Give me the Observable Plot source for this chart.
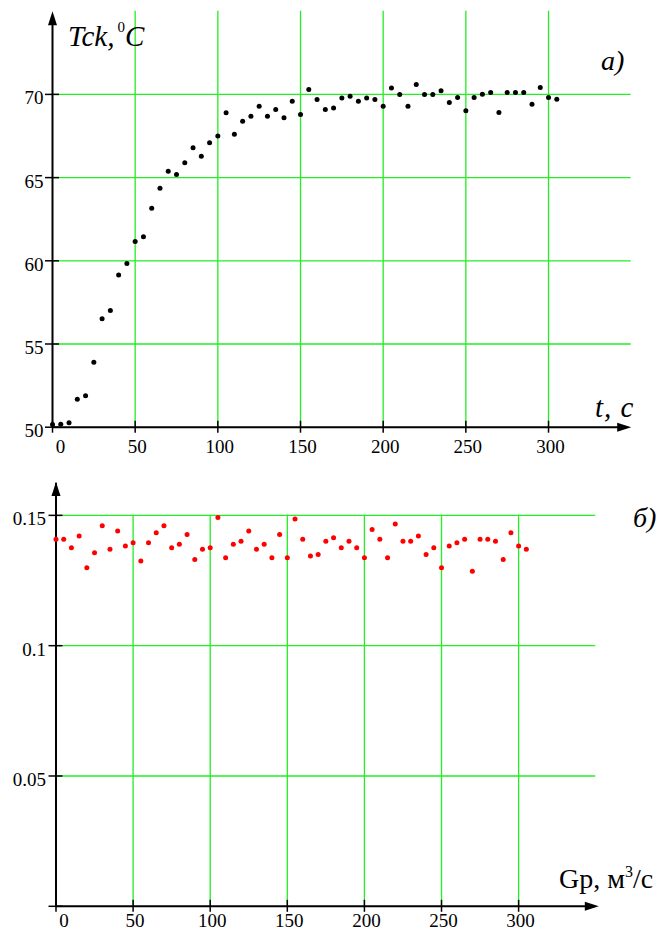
<!DOCTYPE html>
<html><head><meta charset="utf-8">
<script src="https://cdn.jsdelivr.net/npm/d3@7"></script>
<script src="https://cdn.jsdelivr.net/npm/@observablehq/plot@0.6"></script>
<style>
html,body{margin:0;padding:0;background:#fff;overflow:hidden;}
#chart{width:665px;height:934px;position:relative;background:#fff;overflow:hidden;}
#chart svg{display:block;max-width:none !important;}
</style></head><body><div id="chart"></div>
<script>
// ---- data ----
const timeTop = [0,5,10,15,20,25,30,35,40,45,50,55,60,65,70,75,80,85,90,95,100,105,110,115,120,125,130,135,140,145,150,155,160,165,170,175,180,185,190,195,200,205,210,215,220,225,230,235,240,245,250,255,260,265,270,275,280,285,290,295,300,305];
const tck = [50.16,50.18,50.26,51.68,51.89,53.91,56.51,57.01,59.14,59.84,61.16,61.44,63.16,64.36,65.38,65.19,65.89,66.79,66.29,67.09,67.50,68.90,67.60,68.39,68.69,69.29,68.69,69.09,68.59,69.59,68.79,70.29,69.69,69.09,69.19,69.79,69.89,69.59,69.79,69.69,69.29,70.39,69.99,69.29,70.59,70.00,70.00,70.22,69.51,69.81,69.01,69.81,70.01,70.11,68.91,70.11,70.11,70.11,69.41,70.41,69.81,69.71];
const timeBottom = timeTop.slice();
const gp = [0.1408,0.1408,0.1376,0.1421,0.1299,0.1357,0.1460,0.1370,0.1440,0.1382,0.1395,0.1325,0.1395,0.1433,0.1460,0.1376,0.1389,0.1427,0.1331,0.1370,0.1376,0.1492,0.1337,0.1389,0.1401,0.1440,0.1370,0.1389,0.1337,0.1427,0.1337,0.1486,0.1408,0.1344,0.1350,0.1401,0.1414,0.1376,0.1401,0.1376,0.1337,0.1446,0.1408,0.1337,0.1467,0.1401,0.1401,0.1421,0.1350,0.1376,0.1299,0.1382,0.1395,0.1408,0.1286,0.1408,0.1408,0.1401,0.1331,0.1433,0.1382,0.1370];
const xTicks = [0,50,100,150,200,250,300];
const yTicksTop = [50,55,60,65,70];
const yTicksBottom = [0,0.05,0.1,0.15];
const yLabelsBottom = [0.05,0.1,0.15];

// ---- styles ----
const GREEN = "#22ee22";
const SERIF = "'Liberation Serif', 'Times New Roman', Times, 'DejaVu Serif', serif";
const TICKFS = 19;
const arrowUp = {draw(ctx){ ctx.moveTo(0,0); ctx.lineTo(4.5,14); ctx.lineTo(-4.5,14); ctx.closePath(); }};

const chart = document.getElementById("chart");
const topData = timeTop.map((t,i)=>({t, v: tck[i]}));
const botData = timeBottom.map((t,i)=>({t, v: gp[i]}));

function label(sel, x, y, size, italic) {
  return sel.append("text").attr("x", x).attr("y", y)
    .attr("text-anchor", "start")
    .style("font-family", SERIF).attr("font-size", size)
    .attr("font-style", italic ? "italic" : "normal").attr("fill", "black");
}

// ---- top chart ----
const X1 = 350, Y1 = 75;
const topPlot = Plot.plot({
  width: 665, height: 460,
  marginLeft: 52, marginRight: 34.3, marginTop: 10.7, marginBottom: 33.3,
  style: {fontFamily: SERIF, background: "white"},
  x: {domain: [0, X1], axis: null},
  y: {domain: [50, Y1], axis: null},
  marks: [
    Plot.ruleX(xTicks.filter(d=>d>0), {x: d=>d, y1: 50, y2: Y1, stroke: GREEN, strokeWidth: 1.3}),
    Plot.ruleY(yTicksTop.filter(d=>d>50), {y: d=>d, x1: 0, x2: X1, stroke: GREEN, strokeWidth: 1.3}),
    Plot.ruleY([50], {x1: 0, x2: X1 - 4, stroke: "black", strokeWidth: 2}),
    Plot.ruleX([0], {y1: 50, y2: Y1 - 0.5, stroke: "black", strokeWidth: 2}),
    Plot.ruleX(xTicks, {x: d=>d, y1: 50, y2: 50, insetTop: -6, insetBottom: -6, stroke: "black", strokeWidth: 1.5}),
    Plot.ruleY(yTicksTop, {y: d=>d, x1: 0, x2: 0, insetLeft: -7, insetRight: -7, stroke: "black", strokeWidth: 1.5}),
    Plot.dot([0], {x: X1, y: 50, symbol: arrowUp, rotate: 90, r: 4, fill: "black", stroke: null}),
    Plot.dot([0], {x: 0, y: Y1, symbol: arrowUp, r: 4, fill: "black", stroke: null}),
    Plot.text(xTicks.slice(0,1), {x: d=>d, y: 50, dx: 8, dy: 20, text: d=>String(d), fontSize: TICKFS, fontFamily: SERIF, fill: "black"}),
    Plot.text(xTicks.slice(1), {x: d=>d, y: 50, dx: 2, dy: 20, text: d=>String(d), fontSize: TICKFS, fontFamily: SERIF, fill: "black"}),
    Plot.text(yTicksTop, {x: 0, y: d=>d, dx: -9, dy: 4, textAnchor: "end", text: d=>String(d), fontSize: TICKFS, fontFamily: SERIF, fill: "black"}),
    Plot.dot(topData, {x: "t", y: "v", r: 2.5, fill: "black", stroke: null})
  ]
});
chart.appendChild(topPlot);
{
  const s = d3.select(topPlot);
  const t = label(s, 68, 46, 29, true);
  t.append("tspan").text("Tck,");
  t.append("tspan").attr("dx", 3).attr("dy", -14).attr("font-size", 15).attr("font-style", "normal").text("0");
  t.append("tspan").attr("dy", 14).text("C");
  label(s, 601, 69.5, 28, true).text("a)");
  label(s, 595, 417, 29, true).attr("letter-spacing", 1).text("t, c");
}

// ---- bottom chart ----
const X2 = 352, Y2 = 0.1628;
const botPlot = Plot.plot({
  width: 665, height: 474,
  marginLeft: 55.5, marginRight: 66.7, marginTop: 21.5, marginBottom: 28.2,
  style: {fontFamily: SERIF, background: "white"},
  x: {domain: [0, X2], axis: null},
  y: {domain: [0, Y2], axis: null},
  marks: [
    Plot.ruleX(xTicks.filter(d=>d>0), {x: d=>d, y1: 0, y2: 0.15, stroke: GREEN, strokeWidth: 1.3}),
    Plot.ruleY(yTicksBottom.filter(d=>d>0), {y: d=>d, x1: 0, x2: 350, stroke: GREEN, strokeWidth: 1.3}),
    Plot.ruleY([0], {x1: 0, x2: X2 - 4, stroke: "black", strokeWidth: 2}),
    Plot.ruleX([0], {y1: 0, y2: Y2 - 0.0005, stroke: "black", strokeWidth: 2}),
    Plot.ruleX(xTicks, {x: d=>d, y1: 0, y2: 0, insetTop: -6, insetBottom: -6, stroke: "black", strokeWidth: 1.5}),
    Plot.ruleY(yTicksBottom, {y: d=>d, x1: 0, x2: 0, insetLeft: -7, insetRight: -7, stroke: "black", strokeWidth: 1.5}),
    Plot.dot([0], {x: X2, y: 0, symbol: arrowUp, rotate: 90, r: 4, fill: "black", stroke: null}),
    Plot.dot([0], {x: 0, y: Y2, symbol: arrowUp, r: 4, fill: "black", stroke: null}),
    Plot.text(xTicks.slice(0,1), {x: d=>d, y: 0, dx: 8, dy: 15, text: d=>String(d), fontSize: TICKFS, fontFamily: SERIF, fill: "black"}),
    Plot.text(xTicks.slice(1), {x: d=>d, y: 0, dx: 2, dy: 15, text: d=>String(d), fontSize: TICKFS, fontFamily: SERIF, fill: "black"}),
    Plot.text(yLabelsBottom, {x: 0, y: d=>d, dx: -10, dy: 4, textAnchor: "end", text: d=>String(d), fontSize: TICKFS, fontFamily: SERIF, fill: "black"}),
    Plot.dot(botData, {x: "t", y: "v", r: 2.5, fill: "#ff0000", stroke: null})
  ]
});
chart.appendChild(botPlot);
{
  const s = d3.select(botPlot);
  label(s, 633, 67, 28, true).text("б)");
  const g = label(s, 559, 428, 28, false);
  g.append("tspan").text("Gp, м");
  g.append("tspan").attr("dy", -11).attr("font-size", 16).text("3");
  g.append("tspan").attr("dy", 11).text("/с");
}
</script></body></html>
